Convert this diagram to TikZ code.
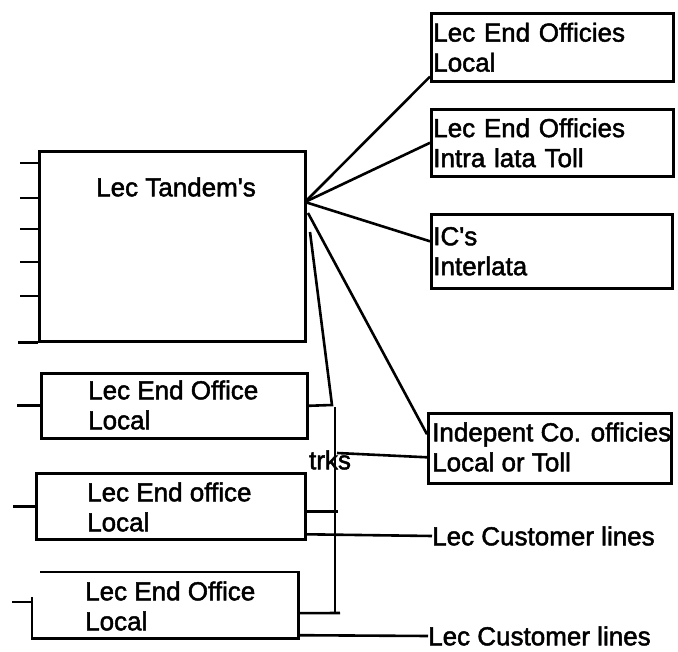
\documentclass[tikz,border=0pt]{standalone}
\usepackage{fontspec}
\newfontfamily\labfont{Liberation Sans}[FakeBold=1.8]
\newcommand{\apo}{\char"0027\relax}
\begin{document}
\begin{tikzpicture}[x=1pt,y=-1pt,
  ln/.style={line width=2.6pt},
  box/.style={draw,line width=2.6pt,rectangle,inner sep=0pt,anchor=north west},
  txt/.style={font=\labfont\fontsize{26}{30}\selectfont,inner sep=0pt,anchor=west,align=left},
  boxtxt/.style={draw,line width=2.6pt,rectangle,anchor=north west,inner xsep=2pt,inner ysep=0pt,
     font=\labfont\fontsize{26}{30}\selectfont,align=left}]
\useasboundingbox (0,0) rectangle (678,652);
% Tandem
\node[box,minimum width=266pt,minimum height=190pt] (tan) at (38,150) {};
\node[txt,anchor=center] (tanl) at (176,187) {Lec Tandem\apo s};
\foreach \o in {13,48,79,112,146} \draw[ln] (tan.north west) ++(0,\o) -- ++(-18,0);
\draw[ln] (tan.south west) -- ++(-20,0);
% right boxes
\node[boxtxt,minimum width=242pt,minimum height=68pt,text width=238pt] (b1) at (430,12) {Lec End Officies\\Local};
\node[boxtxt,minimum width=242pt,minimum height=67pt,text width=238pt] (b2) at (430,108) {Lec End Officies\\Intra lata Toll};
\node[boxtxt,minimum width=241pt,minimum height=74pt,text width=237pt] (b3) at (430,213) {IC\apo s\\Interlata};
\node[box,minimum width=243pt,minimum height=70pt] (b4) at (427,412) {};
\node[txt] (b4l) at (432,447) {Indepent Co. officies\\Local or Toll};
% lower boxes
\node[box,minimum width=266pt,minimum height=65pt] (e1) at (40,372) {};
\node[txt] (e1l) at (88,405) {Lec End Office\\Local};
\node[box,minimum width=269pt,minimum height=66pt] (e2) at (35,472) {};
\node[txt] (e2l) at (87,507) {Lec End office\\Local};
\node[inner sep=0pt,minimum width=266pt,minimum height=66pt,anchor=north west] (e3) at (32,572) {};
\draw[ln] ([xshift=8pt]e3.north west) -- (e3.north east) -- (e3.south east) -- (e3.south west) -- ([yshift=-25pt]e3.north west);
\node[txt] (e3l) at (85,606) {Lec End Office\\Local};
\draw[ln] (e1.west) -- ++(-23,0);
\draw[ln] (e2.west) -- ++(-22,0);
\draw[ln] ([yshift=-30pt]e3.north west) -- ++(-20,0);
% fan
\coordinate (F) at (305,202);
\coordinate (F2) at (308,213);
\coordinate (F3) at (310,232);
\draw[ln] (F) -- ([yshift=6pt]b1.south west);
\draw[ln] (F) -- (b2.west);
\draw[ln] (F) -- ([yshift=10pt]b3.west);
\draw[ln] (F2) -- ([yshift=14pt]b4.west);
\coordinate (k1) at (332,405);
\draw[ln] (F3) -- (k1) -- (e1.east);
% bus
\coordinate (bt) at (335,407);
\coordinate (bb) at (335,613);
\coordinate (bbe) at (340,613);
\draw[ln] (bt) -- (bb);
\draw[ln] ([yshift=-5pt]e2.east) -- ++(31,0);
\draw[ln] ([yshift=-8pt]e3.east) -- (bbe);
\coordinate (t1) at (337,453);
\draw[ln] (t1) -- ([yshift=-9pt]b4.west);
\node[txt,anchor=center] (trks) at (330,460) {trks};
% customer lines
\node[txt] (cl1) at (432,536) {Lec Customer lines};
\node[txt] (cl2) at (428,636) {Lec Customer lines};
\draw[ln] ([yshift=-28pt]e2.east) -- (cl1.west);
\draw[ln] ([yshift=-30pt]e3.east) -- (cl2.west);
\end{tikzpicture}
\end{document}
